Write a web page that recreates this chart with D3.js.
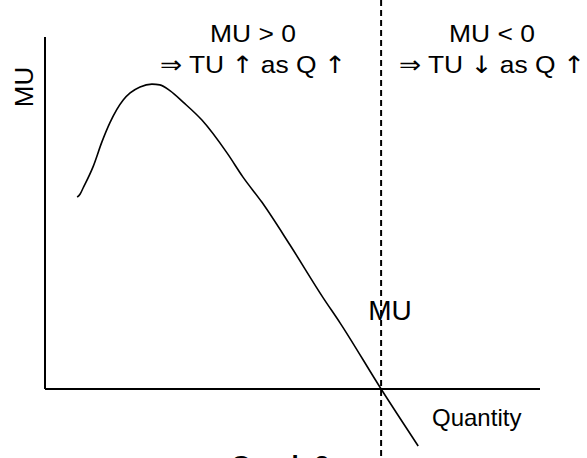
<!DOCTYPE html>
<html>
<head>
<meta charset="utf-8">
<script src="https://cdn.jsdelivr.net/npm/d3@7"></script>
<style>
  body { margin: 0; background: #fff; }
  text { font-family: "Liberation Sans", Arial, sans-serif; fill: #000; }
  .sym { font-family: "DejaVu Sans", sans-serif; }
</style>
</head>
<body>
<svg id="chart" width="587" height="458"></svg>
<script>
// quantity and marginal utility (arbitrary units)
const quantity = [6.5, 7.1, 7.7, 9.7, 11.5, 13.1, 15.8, 17.2, 19.2, 21.6, 23.2, 25.3, 27.9, 31.7, 36.8, 40.0, 43.8, 49.5, 56.2, 59.6, 67.9, 75.4];
const marginalUtility = [54.5, 55.4, 57.1, 63.1, 70.2, 75.6, 82.1, 84.1, 85.8, 86.6, 86.4, 84.7, 81.5, 76.4, 67.0, 60.2, 53.1, 40.9, 25.9, 18.8, 0, -16.2];
const zeroMU = 67.9;
// each label: first line, then the pieces of the second line (arrows drawn with a symbol font)
const leftLabel = ["MU > 0", ["\u21D2", " TU ", "\u2191", " as Q ", "\u2191"]];
const rightLabel = ["MU < 0", ["\u21D2", " TU ", "\u2193", " as Q ", "\u2191"]];

const svg = d3.select("#chart");

const x = d3.scaleLinear().domain([0, 100]).range([45, 540]);
const y = d3.scaleLinear().domain([0, 100]).range([389, 37]);

const points = quantity.map((q, i) => ({ q: q, mu: marginalUtility[i] }));

// axes as plain lines, no ticks
svg.append("line")
    .attr("x1", x(0)).attr("x2", x(0))
    .attr("y1", y(100)).attr("y2", y(0))
    .attr("stroke", "#000").attr("stroke-width", 2);
svg.append("line")
    .attr("x1", x(0)).attr("x2", x(100))
    .attr("y1", y(0)).attr("y2", y(0))
    .attr("stroke", "#000").attr("stroke-width", 2);

// dashed line where MU = 0
svg.append("line")
    .attr("x1", x(zeroMU)).attr("x2", x(zeroMU))
    .attr("y1", 0).attr("y2", 458)
    .attr("stroke", "#000").attr("stroke-width", 2)
    .attr("stroke-dasharray", "6,4");

const line = d3.line()
    .x(d => x(d.q))
    .y(d => y(d.mu))
    .curve(d3.curveMonotoneX);

svg.append("path")
    .datum(points)
    .attr("d", line)
    .attr("fill", "none")
    .attr("stroke", "#000")
    .attr("stroke-width", 1.6);

// labels
svg.append("text")
    .attr("transform", "translate(33,87) rotate(-90)")
    .attr("text-anchor", "middle")
    .style("font-size", "26px")
    .text("MU");

svg.append("text")
    .attr("x", 390).attr("y", 320)
    .attr("text-anchor", "middle")
    .style("font-size", "28px")
    .text("MU");

svg.append("text")
    .attr("x", 432).attr("y", 426)
    .style("font-size", "24px")
    .text("Quantity");

// caption sits mostly below the picture, as in the reference
svg.append("text")
    .attr("x", 280).attr("y", 474)
    .attr("text-anchor", "middle")
    .style("font-size", "26px")
    .style("font-weight", "bold")
    .text("Graph 3");

const topText = (label, cx) => {
    const g = svg.append("g").attr("transform", `translate(${cx},0) scale(1.1,1)`);
    g.append("text")
        .attr("x", 0).attr("y", 42)
        .attr("text-anchor", "middle")
        .style("font-size", "24px")
        .text(label[0]);
    const t = g.append("text")
        .attr("x", 0).attr("y", 73)
        .attr("text-anchor", "middle")
        .style("font-size", "24px");
    label[1].forEach(s => {
        t.append("tspan")
            .attr("class", /[\u2190-\u21FF]/.test(s) ? "sym" : null)
            .text(s);
    });
};
topText(leftLabel, 253);
topText(rightLabel, 492);
</script>
</body>
</html>
